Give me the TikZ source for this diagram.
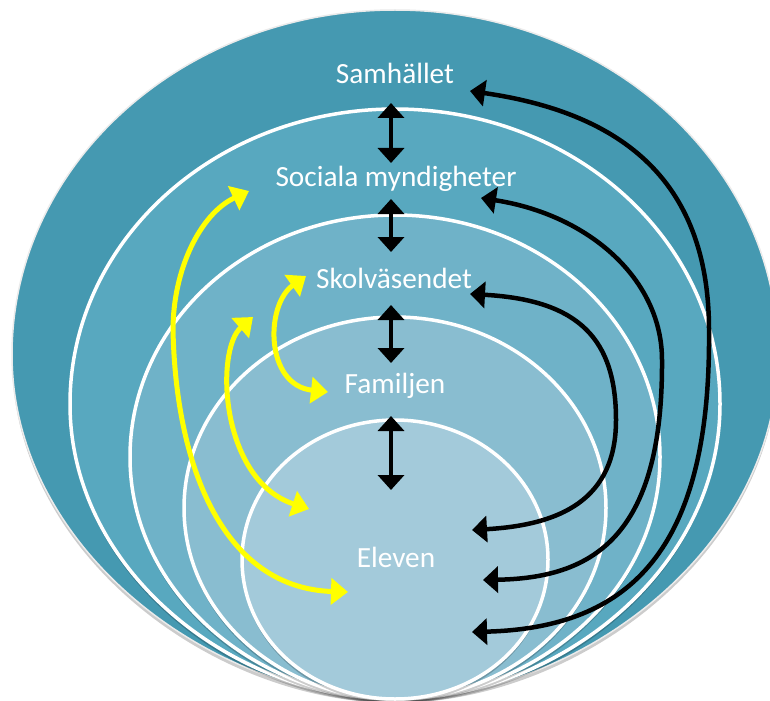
\documentclass[tikz,border=0pt]{standalone}
\usepackage{fontspec}
\setmainfont{Carlito}
\usetikzlibrary{arrows.meta}
\definecolor{cA}{RGB}{69,153,177}
\definecolor{cB}{RGB}{88,168,191}
\definecolor{cC}{RGB}{111,178,200}
\definecolor{cD}{RGB}{137,189,208}
\definecolor{cE}{RGB}{163,202,218}
\definecolor{ylw}{RGB}{255,255,0}
\tikzset{
  ring/.style={draw=white, line width=3.5bp},
  outerring/.style={draw=white!92!black, line width=1.5bp},
  shadowfill/.style={fill=black, opacity=0.2},
  lbl/.style={text=white, font=\fontsize{29.3bp}{35bp}\selectfont, anchor=base, inner sep=0pt},
  blk/.style={draw=black, line width=4.5bp, {Triangle[width=26bp,length=15bp]}-{Triangle[width=26bp,length=15bp]}},
  ylwarr/.style={draw=ylw, line width=5bp, {Triangle[width=26bp,length=17bp]}-{Triangle[width=26bp,length=17bp]}},
}
% egg-shaped shell: #1 options, #2 top y, #3 bottom y, #4 half width, #5 bottom roundness
\newcommand\eggshell[5]{%
  \pgfmathsetmacro\ecy{(#2+#3)/2}%
  \pgfmathsetmacro\ery{(#3-#2)/2}%
  \pgfmathsetmacro\eA{\ecy+0.57*\ery}%
  \pgfmathsetmacro\eB{#5*#4}%
  \path[#1] (395-#4,\ecy) arc[start angle=180, end angle=360, x radius=#4, y radius=\ery]
    .. controls (395+#4,\eA) and (395+\eB,#3) .. (395,#3)
    .. controls (395-\eB,#3) and (395-#4,\eA) .. cycle;%
}
\begin{document}
\begin{tikzpicture}[x=1bp,y=-1bp]
\useasboundingbox (0,0) rectangle (770,701);
\clip (0,0) rectangle (770,701);
\fill[white] (0,0) rectangle (770,701);
% shells (shadow then fill)
\eggshell{shadowfill, yshift=-4bp}{10}{699}{383}{0.47}
\eggshell{fill=cA, outerring}{10}{699}{383}{0.47}
\eggshell{shadowfill, yshift=-4bp}{109}{699}{325}{0.49}
\eggshell{fill=cB, ring}{109}{699}{325}{0.49}
\eggshell{shadowfill, yshift=-4bp}{215}{699}{265}{0.51}
\eggshell{fill=cC, ring}{215}{699}{265}{0.51}
\eggshell{shadowfill, yshift=-4bp}{317}{699}{211}{0.53}
\eggshell{fill=cD, ring}{317}{699}{211}{0.53}
\eggshell{shadowfill, yshift=-4bp}{420}{699}{153}{0.55}
\eggshell{fill=cE, ring}{420}{699}{153}{0.55}
% labels
\node[lbl] (sam) at (395,84) {Samhället};
\node[lbl] (soc) at (396,186) {Sociala myndigheter};
\node[lbl] (sko) at (394,288) {Skolväsendet};
\node[lbl] (fam) at (395,393) {Familjen};
\node[lbl] (ele) at (396,567) {Eleven};
% vertical double arrows
\coordinate (d1a) at (391,103); \coordinate (d1b) at (391,163);
\coordinate (d2a) at (391,199); \coordinate (d2b) at (391,252);
\coordinate (d3a) at (391,305); \coordinate (d3b) at (391,363);
\coordinate (d4a) at (391,416); \coordinate (d4b) at (391,490);
\draw[blk] (d1a) -- (d1b);
\draw[blk] (d2a) -- (d2b);
\draw[blk] (d3a) -- (d3b);
\draw[blk] (d4a) -- (d4b);
% black curved arrows
\coordinate (b1s) at (470,91);  \coordinate (b1e) at (472,632);
\coordinate (b2s) at (481,198); \coordinate (b2e) at (483,580);
\coordinate (b3s) at (470,294); \coordinate (b3e) at (472,530);
\draw[blk] (b1s) .. controls (615,112) and (709,175) .. (709,330)
                 .. controls (711,550) and (630,628) .. (b1e);
\draw[blk] (b2s) .. controls (590,215) and (662,280) .. (662,360)
                 .. controls (663,540) and (590,578) .. (b2e);
\draw[blk] (b3s) .. controls (580,300) and (616,340) .. (616,420)
                 .. controls (616,500) and (560,525) .. (b3e);
% yellow curved arrows
\coordinate (yAs) at (249,191); \coordinate (yAe) at (348,592);
\coordinate (yBs) at (306,276); \coordinate (yBe) at (328,392);
\coordinate (yCs) at (253,317); \coordinate (yCe) at (309,509);
\draw[ylwarr] (yAs) .. controls (200,214) and (173,270) .. (173,330)
                    .. controls (176,470) and (225,588) .. (yAe);
\draw[ylwarr] (yBs) .. controls (265,305) and (265,385) .. (yBe);
\draw[ylwarr] (yCs) .. controls (215,350) and (220,480) .. (yCe);
\end{tikzpicture}
\end{document}
